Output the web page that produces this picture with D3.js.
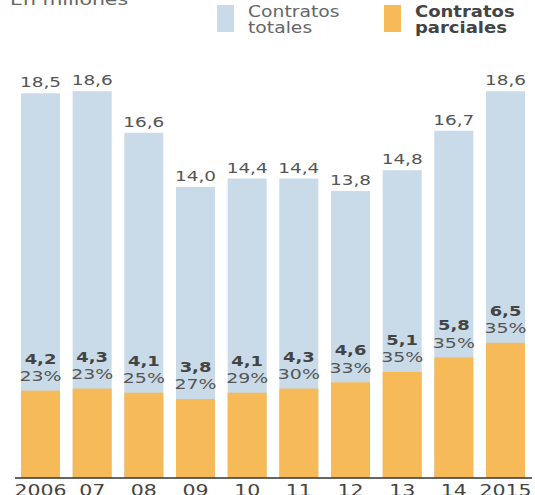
<!DOCTYPE html>
<html lang="es">
<head>
<meta charset="UTF-8">
<title>Contratos totales y parciales</title>
<style>
    body { margin: 0; background: #fff; }
    svg { display: block; font-family: "DejaVu Sans", sans-serif; }
</style>
</head>
<body>
<div id="chart"></div>
<script src="https://d3js.org/d3.v7.min.js"></script>
<script>
    // datos (millones)
    var years = ["2006", "07", "08", "09", "10", "11", "12", "13", "14", "2015"];
    var totales = [18.5, 18.6, 16.6, 14.0, 14.4, 14.4, 13.8, 14.8, 16.7, 18.6];
    var parciales = [4.2, 4.3, 4.1, 3.8, 4.1, 4.3, 4.6, 5.1, 5.8, 6.5];
    var porcentajes = [23, 23, 25, 27, 29, 30, 33, 35, 35, 35];

    var width = 535, height = 495;
    var blue = "#c9dbe8", orange = "#f6ba58";
    var wide = 1.28; // the original font is very wide

    var svg = d3.select("#chart").append("svg")
        .attr("width", width)
        .attr("height", height);

    var x = d3.scaleBand()
        .domain(years)
        .range([21, 525])
        .paddingInner(0.245)
        .paddingOuter(0);

    var y = d3.scaleLinear()
        .domain([0, 18.6])
        .range([478, 91.2]);

    var fmt = function (v) { return d3.format(".1f")(v).replace(".", ","); };
    var cx = function (d) { return x(d) + x.bandwidth() / 2; };

    // barras totales
    svg.append("g").selectAll("rect")
        .data(years)
        .enter().append("rect")
        .attr("x", function (d) { return x(d); })
        .attr("y", function (d, i) { return y(totales[i]); })
        .attr("width", x.bandwidth())
        .attr("height", function (d, i) { return y(0) - y(totales[i]); })
        .attr("fill", blue);

    // barras parciales
    svg.append("g").selectAll("rect")
        .data(years)
        .enter().append("rect")
        .attr("x", function (d) { return x(d); })
        .attr("y", function (d, i) { return y(parciales[i]); })
        .attr("width", x.bandwidth())
        .attr("height", function (d, i) { return y(0) - y(parciales[i]); })
        .attr("fill", orange);

    function labels(yFn, txt, size, weight, color) {
        svg.append("g").selectAll("text")
            .data(years)
            .enter().append("text")
            .attr("transform", function (d, i) {
                return "translate(" + cx(d) + "," + yFn(i) + ") scale(" + wide + ",1)";
            })
            .attr("text-anchor", "middle")
            .attr("font-size", size)
            .attr("font-weight", weight)
            .attr("fill", color)
            .text(function (d, i) { return txt(i); });
    }

    labels(function (i) { return y(totales[i]) - 6; },
        function (i) { return fmt(totales[i]); }, "14.4px", "normal", "#555");
    labels(function (i) { return y(parciales[i]) - 27; },
        function (i) { return fmt(parciales[i]); }, "14px", "bold", "#444");
    labels(function (i) { return y(parciales[i]) - 9.5; },
        function (i) { return porcentajes[i] + "%"; }, "14.8px", "normal", "#555");

    // eje
    var axis = svg.append("g")
        .attr("transform", "translate(0," + y(0) + ")")
        .call(d3.axisBottom(x).tickSize(0).tickPadding(6));
    axis.select(".domain").remove();
    axis.append("line")
        .attr("x1", 15).attr("x2", 532)
        .attr("stroke", "#333").attr("stroke-width", 1.5);
    axis.selectAll(".tick text")
        .attr("font-family", "DejaVu Sans, sans-serif")
        .attr("font-size", "16px")
        .attr("fill", "#444")
        .attr("dy", "0.75em")
        .attr("transform", "scale(" + wide + ",1)");

    // subtitulo
    svg.append("text")
        .attr("transform", "translate(10,5) scale(" + wide + ",1)")
        .attr("font-size", "16px")
        .attr("fill", "#666")
        .text("En millones");

    // leyenda
    var legend = [
        { lines: ["Contratos", "totales"], color: blue, x: 217, bold: false },
        { lines: ["Contratos", "parciales"], color: orange, x: 384, bold: true }
    ];
    var lg = svg.append("g").selectAll("g")
        .data(legend)
        .enter().append("g")
        .attr("transform", function (d) { return "translate(" + d.x + ",5)"; });
    lg.append("rect")
        .attr("width", 17).attr("height", 27)
        .attr("fill", function (d) { return d.color; });
    lg.each(function (d) {
        d3.select(this).selectAll("text")
            .data(d.lines)
            .enter().append("text")
            .attr("transform", function (l, i) {
                return "translate(31," + (12 + i * 16) + ") scale(" + (d.bold ? 1.2 : 1.25) + ",1)";
            })
            .attr("font-size", "15px")
            .attr("font-weight", d.bold ? "bold" : "normal")
            .attr("fill", d.bold ? "#444" : "#666")
            .text(function (l) { return l; });
    });
</script>
</body>
</html>
